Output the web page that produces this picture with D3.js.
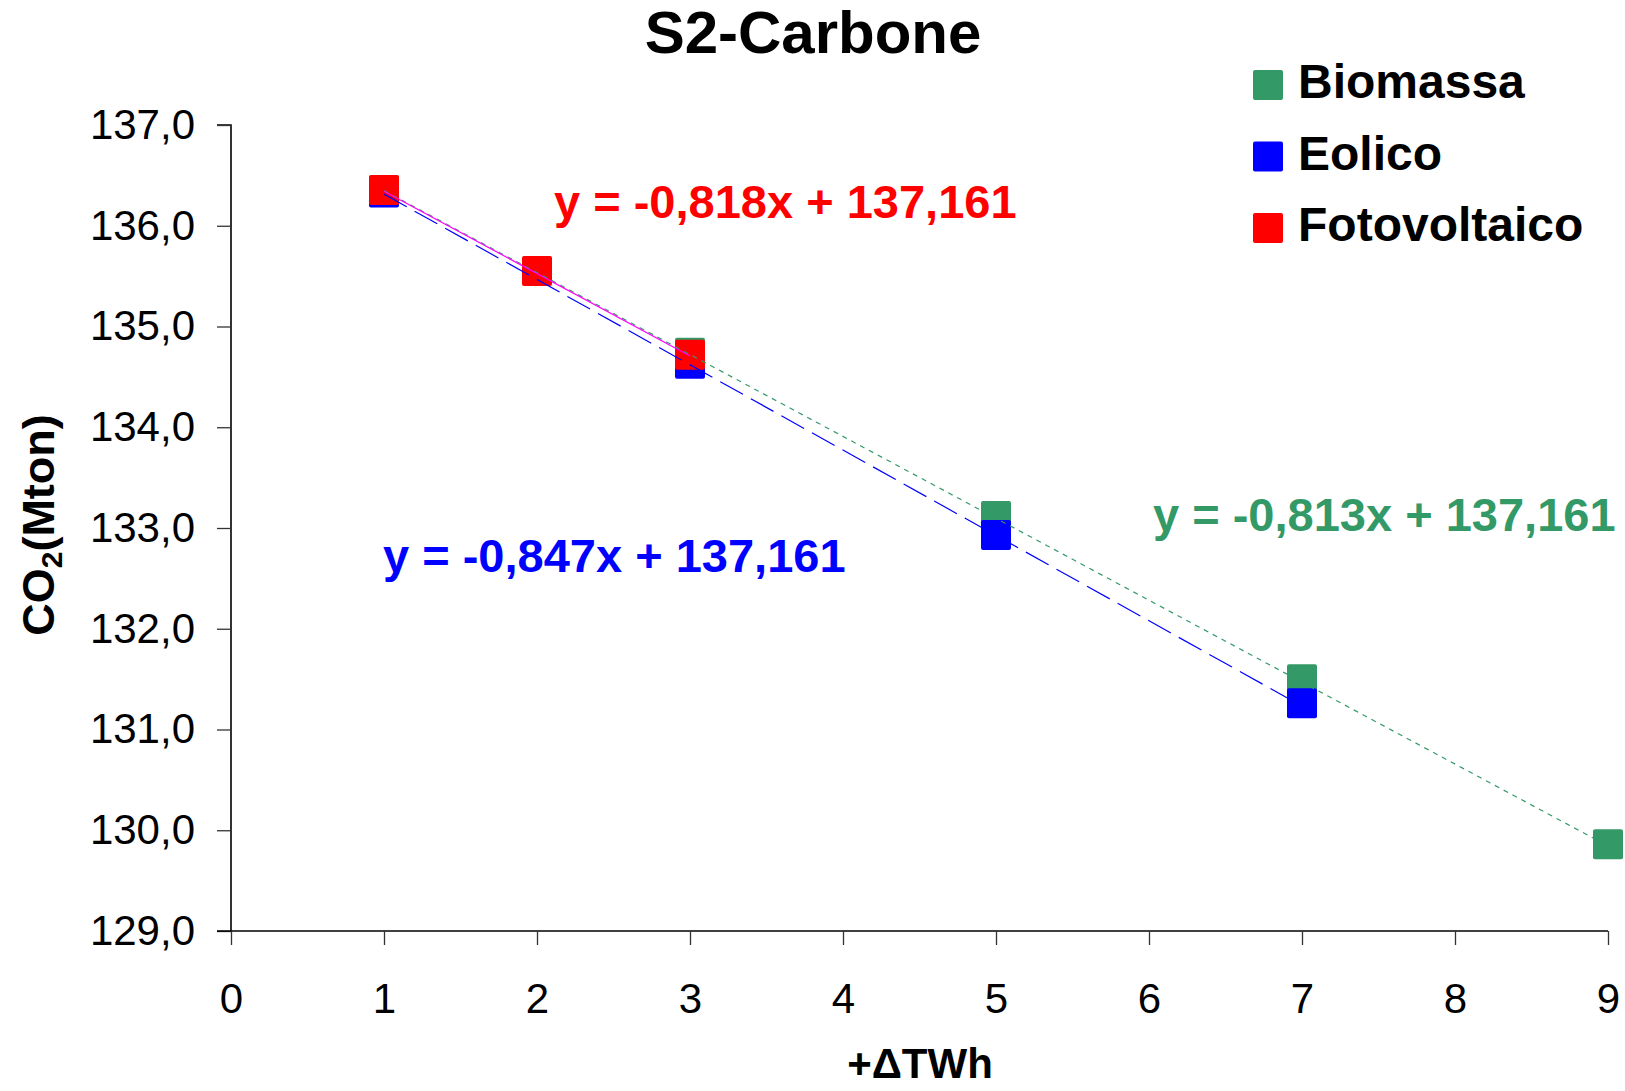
<!DOCTYPE html>
<html>
<head>
<meta charset="utf-8">
<script src="https://cdn.jsdelivr.net/npm/d3@7/dist/d3.min.js"></script>
<style>
  html, body { margin: 0; padding: 0; background: #fff; }
  svg { display: block; font-family: "Liberation Sans", Arial, sans-serif; }
</style>
</head>
<body>
<svg id="chart" width="1625" height="1091"></svg>
<script>
// Series: added generation (ΔTWh) vs. CO2 emissions (Mton)
const seriesNames = ["Biomassa", "Eolico", "Fotovoltaico"];
const seriesColors = ["#339966", "#0000FF", "#FF0000"];
const trendColors = ["#339966", "#0000FF", "#FF00FF"];

const biomassaX = [1, 3, 5, 7, 9];
const biomassaY = [136.35, 134.74, 133.12, 131.50, 129.86];
const eolicoX = [1, 3, 5, 7];
const eolicoY = [136.33, 134.63, 132.93, 131.26];
const fotovoltaicoX = [1, 2, 3];
const fotovoltaicoY = [136.355, 135.55, 134.72];

// Linear trend lines (fixed intercept)
const trendSlopes = [-0.813, -0.847, -0.818];
const trendIntercept = 137.161;

const xTicks = [0, 1, 2, 3, 4, 5, 6, 7, 8, 9];
const yTicks = [129, 130, 131, 132, 133, 134, 135, 136, 137];

const titleText = "S2-Carbone";
const xTitle = "+ΔTWh";

const seriesX = [biomassaX, eolicoX, fotovoltaicoX];
const seriesY = [biomassaY, eolicoY, fotovoltaicoY];

const it = d3.formatLocale({ decimal: ",", thousands: ".", grouping: [3], currency: ["", " €"] });
const fmt1 = it.format(".1f");
const fmt3 = it.format(".3f");

const svg = d3.select("#chart");

const x = d3.scaleLinear().domain([0, 9]).range([231, 1608]);
const y = d3.scaleLinear().domain([129, 137]).range([931, 125]);

// Title
svg.append("text")
  .attr("x", 813).attr("y", 53)
  .attr("text-anchor", "middle")
  .attr("font-size", 60).attr("font-weight", "bold")
  .text(titleText);

// Axes
const yAxis = d3.axisLeft(y).tickValues(yTicks).tickFormat(fmt1).tickSize(14).tickPadding(22);
const xAxis = d3.axisBottom(x).tickValues(xTicks).tickFormat(d3.format("d")).tickSize(14).tickPadding(38);

const gy = svg.append("g").attr("transform", `translate(${x(0)},0)`).call(yAxis);
const gx = svg.append("g").attr("transform", `translate(0,${y(129)})`).call(xAxis);

[gx, gy].forEach(g => {
  g.select(".domain").attr("stroke", "#000").attr("stroke-width", 1.6);
  g.selectAll(".tick line").attr("stroke", "#333").attr("stroke-width", 1.3);
  g.selectAll(".tick text").attr("font-size", 42).attr("fill", "#000")
    .attr("font-family", "'Liberation Sans', Arial, sans-serif");
});
gy.select(".domain").attr("d", `M-14,${y(137)}H0V${y(129)}`);
gx.select(".domain").attr("d", `M${x(0) - 14},0H${x(9)}`);

// Axis titles
const yt = svg.append("text")
  .attr("transform", `translate(54,525) rotate(-90)`)
  .attr("text-anchor", "middle")
  .attr("font-size", 45).attr("font-weight", "bold");
yt.append("tspan").text("CO");
yt.append("tspan").attr("font-size", 30).attr("dy", 8).text("2");
yt.append("tspan").attr("dy", -8).text("(Mton)");

svg.append("text")
  .attr("x", 920).attr("y", 1078)
  .attr("text-anchor", "middle")
  .attr("font-size", 42).attr("font-weight", "bold")
  .text(xTitle);

// Markers
const markerSize = 30;
seriesNames.forEach((name, i) => {
  const pts = seriesX[i].map((xv, j) => [xv, seriesY[i][j]]);
  svg.append("g").selectAll("rect").data(pts).join("rect")
    .attr("x", d => x(d[0]) - markerSize / 2)
    .attr("y", d => y(d[1]) - markerSize / 2)
    .attr("width", markerSize).attr("height", markerSize)
    .attr("rx", 2)
    .attr("fill", seriesColors[i]);
});

// Trend lines
const dashes = ["5,5", "26,9", null];
seriesNames.forEach((name, i) => {
  const xs = seriesX[i];
  const x0 = d3.min(xs), x1 = d3.max(xs);
  const line = d3.line().x(d => x(d[0])).y(d => y(d[1]));
  svg.append("path")
    .attr("d", line([[x0, trendIntercept + trendSlopes[i] * x0], [x1, trendIntercept + trendSlopes[i] * x1]]))
    .attr("fill", "none")
    .attr("stroke", trendColors[i])
    .attr("stroke-width", 1.2)
    .attr("stroke-dasharray", dashes[i]);
});

// Trend equations
const eqPos = [[1153, 531], [383, 572], [554, 218]];
seriesNames.forEach((name, i) => {
  const s = trendSlopes[i];
  svg.append("text")
    .attr("x", eqPos[i][0]).attr("y", eqPos[i][1])
    .attr("font-size", 47).attr("font-weight", "bold")
    .attr("fill", seriesColors[i])
    .text(`y = ${s < 0 ? "-" : ""}${fmt3(Math.abs(s))}x + ${fmt3(trendIntercept)}`);
});

// Legend
const legend = svg.append("g");
seriesNames.forEach((name, i) => {
  const cy = 85 + i * 71.5;
  legend.append("rect")
    .attr("x", 1253).attr("y", cy - 15)
    .attr("width", 30).attr("height", 30)
    .attr("rx", 2)
    .attr("fill", seriesColors[i]);
  legend.append("text")
    .attr("x", 1298).attr("y", cy + 13)
    .attr("font-size", 48).attr("font-weight", "bold")
    .text(name);
});
</script>
</body>
</html>
